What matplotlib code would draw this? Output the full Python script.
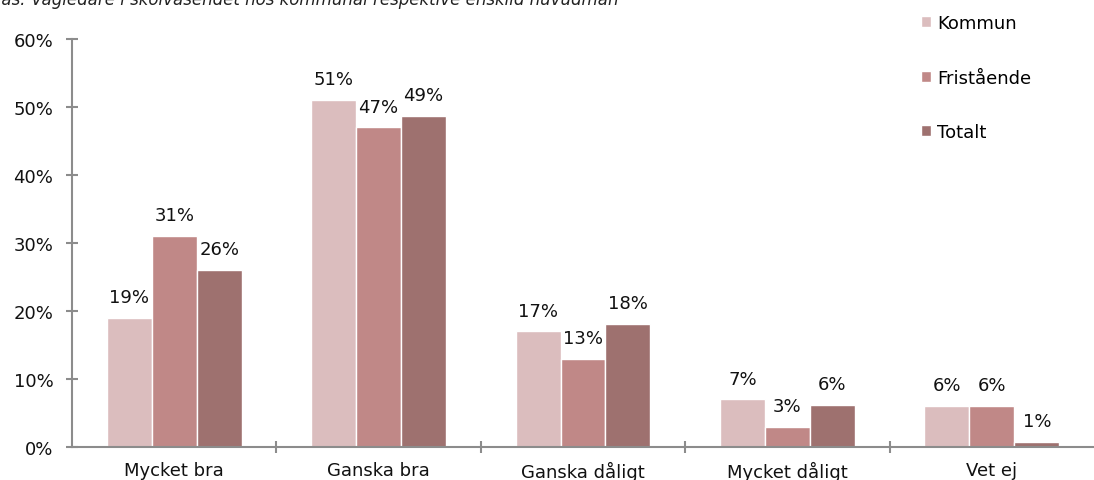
import numpy as np
import matplotlib
matplotlib.use('Agg')
import matplotlib.pyplot as plt

kategorier = ['Mycket bra', 'Ganska bra', 'Ganska dåligt', 'Mycket dåligt', 'Vet ej']
serier = ['Kommun', 'Fristående', 'Totalt']
kommun = [19, 51, 17, 7, 6]
fristaende = [31, 47, 13, 3, 6]
totalt = [26, 48.7, 18.1, 6.2, 0.7]
y_ticks = [0, 10, 20, 30, 40, 50, 60]
titel = 'Bas: Vägledare i skolväsendet hos kommunal respektive enskild huvudman'

farger = ['#DBBDBE', '#C08887', '#9E716F']

plt.rcParams['font.family'] = ['DejaVu Sans']

fig = plt.figure(figsize=(10.94, 4.81), dpi=100)
ax = fig.add_axes([72 / 1094, 33 / 481, 1 - 72 / 1094, 408 / 481])

x = np.arange(len(kategorier))
bredd = 0.22
for i, (namn, varden) in enumerate(zip(serier, [kommun, fristaende, totalt])):
    pos = x + (i - 1) * bredd
    staplar = ax.bar(pos, varden, bredd, color=farger[i], edgecolor='white',
                     linewidth=1, label=namn)
    for s, v in zip(staplar, varden):
        ax.annotate(f'{round(v):.0f}%', (s.get_x() + s.get_width() / 2, v),
                    xytext=(0, 8.5), textcoords='offset points', ha='center',
                    va='bottom', fontsize=13, color='#111111')

ax.set_xlim(-0.5, len(kategorier) - 0.5)
ax.set_ylim(0, 60)
ax.set_yticks(y_ticks)
ax.set_yticklabels([f'{t}%' for t in y_ticks])
ax.set_xticks(x)
ax.set_xticklabels(kategorier)
ax.set_xticks(np.arange(0.5, len(kategorier) - 1), minor=True)
ax.tick_params(axis='x', which='major', length=0, labelsize=13, pad=10, labelcolor='#111111')
ax.tick_params(axis='x', which='minor', length=9, direction='inout', color='#8c8c8c', width=1.5)
ax.tick_params(axis='y', length=9, direction='inout', color='#8c8c8c', width=1.5,
               labelsize=13, labelcolor='#111111', pad=9)
for side in ['top', 'right']:
    ax.spines[side].set_visible(False)
for side in ['left', 'bottom']:
    ax.spines[side].set_color('#8c8c8c')
    ax.spines[side].set_linewidth(1.5)

leg = ax.legend(loc='upper left', bbox_to_anchor=(921 / 1094, 1 - 15 / 481),
                bbox_transform=fig.transFigure, frameon=False, fontsize=13,
                handlelength=0.55, handleheight=0.55, handletextpad=0.35,
                labelspacing=2.03, borderpad=0, borderaxespad=0)

fig.text(-10 / 1094, 1 - 5 / 481, titel, fontsize=12, style='italic',
         color='#222222', ha='left', va='baseline')

fig.savefig('out.png', dpi=100)
